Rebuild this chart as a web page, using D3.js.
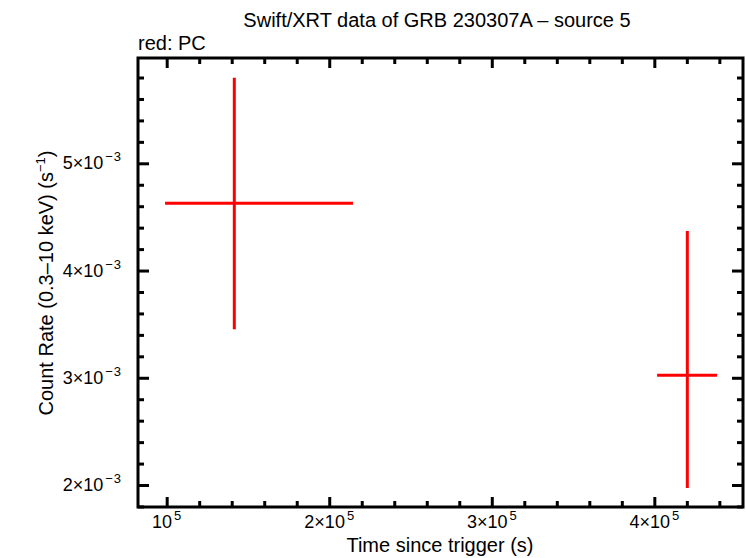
<!DOCTYPE html>
<html>
<head>
<meta charset="utf-8">
<script src="https://cdn.jsdelivr.net/npm/d3@7"></script>
<style>
  html, body { margin: 0; padding: 0; background: #fff; }
  svg { display: block; font-family: "Liberation Sans", Arial, Helvetica, sans-serif; }
</style>
</head>
<body>
<svg id="chart" width="746" height="558"></svg>
<script>
// ---- data ----
const timeCenter = [141600, 420300];
const timeLow    = [99000, 401700];
const timeHigh   = [214600, 438600];
const rate       = [4.627e-3, 3.023e-3];
const rateLow    = [3.452e-3, 1.972e-3];
const rateHigh   = [5.798e-3, 4.369e-3];

const xMajorTicks = [1e5, 2e5, 3e5, 4e5];
const xTickMant   = ["", "2×", "3×", "4×"];
const yMajorTicks = [2e-3, 3e-3, 4e-3, 5e-3];
const yTickMant   = ["2×", "3×", "4×", "5×"];

const titleText = "Swift/XRT data of GRB 230307A \u2013 source 5";
const subText = "red: PC";
const xLabel = "Time since trigger (s)";

// ---- layout ----
const L = 138, R = 743, T = 58, B = 507;
const svg = d3.select("#chart");

const x = d3.scaleLinear().domain([82350, 454550]).range([L, R]);
const y = d3.scaleLinear().domain([1.795e-3, 5.982e-3]).range([B, T]);

const xMinor = d3.range(0.8e5, 4.6e5, 2e4).filter(v => v >= x.domain()[0] && v <= x.domain()[1] && Math.abs(v/1e5 - Math.round(v/1e5)) > 1e-6);
const yMinor = d3.range(1.8e-3, 6.0e-3, 2e-4).filter(v => v >= y.domain()[0] && v <= y.domain()[1] && Math.abs(v/1e-3 - Math.round(v/1e-3)) > 1e-6);

function styleAxis(g) {
  g.select(".domain").remove();
  g.selectAll("line").attr("stroke", "#000").attr("stroke-width", 3);
}

// bottom / top axes
svg.append("g").attr("transform", `translate(0,${B})`)
  .call(d3.axisBottom(x).tickValues(xMajorTicks).tickSize(-10).tickFormat(""))
  .call(styleAxis);
svg.append("g").attr("transform", `translate(0,${B})`)
  .call(d3.axisBottom(x).tickValues(xMinor).tickSize(-6).tickFormat(""))
  .call(styleAxis);
svg.append("g").attr("transform", `translate(0,${T})`)
  .call(d3.axisTop(x).tickValues(xMajorTicks).tickSize(-10).tickFormat(""))
  .call(styleAxis);
svg.append("g").attr("transform", `translate(0,${T})`)
  .call(d3.axisTop(x).tickValues(xMinor).tickSize(-6).tickFormat(""))
  .call(styleAxis);

// left / right axes
svg.append("g").attr("transform", `translate(${L},0)`)
  .call(d3.axisLeft(y).tickValues(yMajorTicks).tickSize(-11).tickFormat(""))
  .call(styleAxis);
svg.append("g").attr("transform", `translate(${L},0)`)
  .call(d3.axisLeft(y).tickValues(yMinor).tickSize(-6).tickFormat(""))
  .call(styleAxis);
svg.append("g").attr("transform", `translate(${R},0)`)
  .call(d3.axisRight(y).tickValues(yMajorTicks).tickSize(-11).tickFormat(""))
  .call(styleAxis);
svg.append("g").attr("transform", `translate(${R},0)`)
  .call(d3.axisRight(y).tickValues(yMinor).tickSize(-6).tickFormat(""))
  .call(styleAxis);

// frame
svg.append("rect").attr("x", L).attr("y", T).attr("width", R - L).attr("height", B - T)
  .attr("fill", "none").attr("stroke", "#000").attr("stroke-width", 3);

// x tick labels
const xl = svg.append("g").selectAll("text").data(xMajorTicks).join("text")
  .attr("x", d => x(d)).attr("y", B + 21).attr("text-anchor", "middle")
  .attr("font-size", 18).attr("fill", "#000");
xl.each(function(d, i) {
  const t = d3.select(this);
  t.append("tspan").text(xTickMant[i] + "10");
  t.append("tspan").attr("dx", 2).attr("dy", -8).attr("font-size", 13).text("5");
});

// y tick labels
const yl = svg.append("g").selectAll("text").data(yMajorTicks).join("text")
  .attr("x", 122).attr("y", d => y(d) + 6).attr("text-anchor", "end")
  .attr("font-size", 18).attr("fill", "#000");
yl.each(function(d, i) {
  const t = d3.select(this);
  t.append("tspan").text(yTickMant[i] + "10");
  t.append("tspan").attr("dx", 2).attr("dy", -8).attr("font-size", 13).attr("letter-spacing", 1).text("\u22123");
});

// titles
svg.append("text").attr("x", 437).attr("y", 27).attr("text-anchor", "middle")
  .attr("font-size", 20).text(titleText);
svg.append("text").attr("x", 138).attr("y", 50).attr("font-size", 20).text(subText);
svg.append("text").attr("x", 440).attr("y", 552).attr("text-anchor", "middle")
  .attr("font-size", 20).text(xLabel);
const yt = svg.append("text").attr("transform", "translate(53,283) rotate(-90)")
  .attr("text-anchor", "middle").attr("font-size", 20);
yt.append("tspan").text("Count Rate (0.3\u201310 keV) (s");
yt.append("tspan").attr("dy", -8).attr("font-size", 13).text("\u22121");
yt.append("tspan").attr("dy", 8).text(")");

// data: error bars
const idx = d3.range(timeCenter.length);
const g = svg.append("g").attr("stroke", "#ff0000").attr("stroke-width", 3);
g.selectAll("line.h").data(idx).join("line").attr("class", "h")
  .attr("x1", i => x(timeLow[i])).attr("x2", i => x(timeHigh[i]))
  .attr("y1", i => y(rate[i])).attr("y2", i => y(rate[i]));
g.selectAll("line.v").data(idx).join("line").attr("class", "v")
  .attr("x1", i => x(timeCenter[i])).attr("x2", i => x(timeCenter[i]))
  .attr("y1", i => y(rateLow[i])).attr("y2", i => y(rateHigh[i]));
</script>
</body>
</html>
